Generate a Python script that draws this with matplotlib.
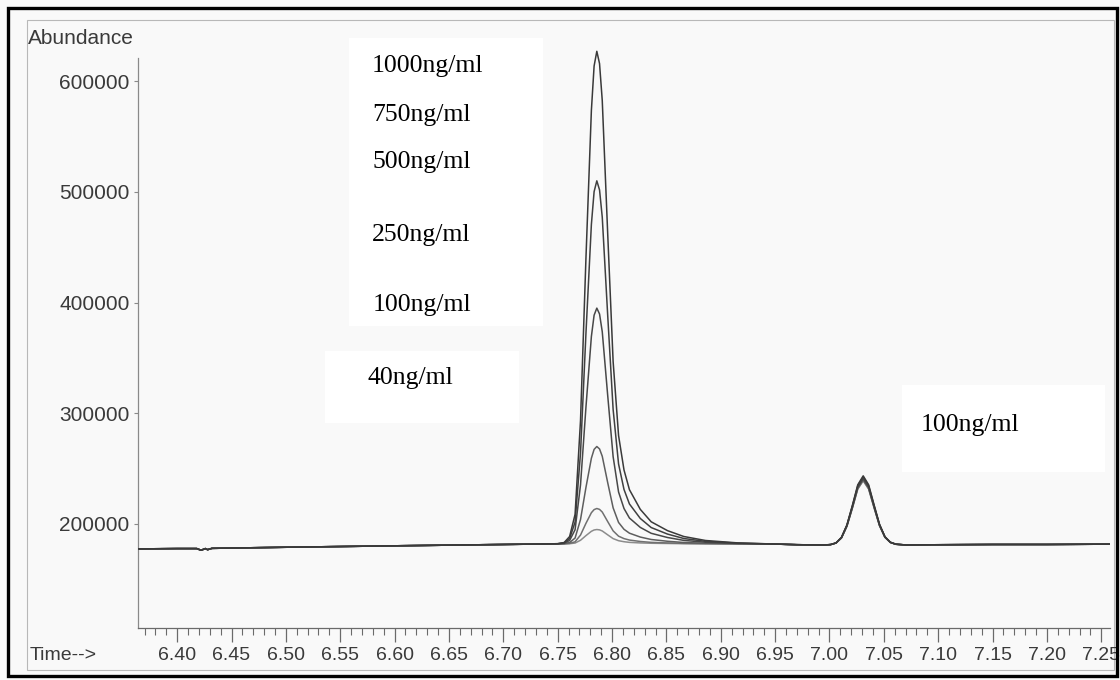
import matplotlib
matplotlib.use("Agg")
import matplotlib.pyplot as plt
from matplotlib.patches import Rectangle
from matplotlib.ticker import MultipleLocator

# ---------------- data ----------------
concentrations = ["1000ng/ml", "750ng/ml", "500ng/ml", "250ng/ml", "100ng/ml", "40ng/ml"]

time_pre = [6.364, 6.40, 6.418, 6.422, 6.426, 6.428, 6.432, 6.50, 6.60, 6.70]
abund_pre = [177500, 177800, 177800, 176300, 177800, 176800, 178000, 179000, 180300, 181500]

time_main = [6.740, 6.750, 6.756, 6.761, 6.766, 6.771, 6.776, 6.781, 6.7835, 6.786,
             6.7885, 6.791, 6.796, 6.801, 6.806, 6.811, 6.816, 6.826, 6.836, 6.851,
             6.866, 6.886, 6.916, 6.946]
main_1000 = [182000, 182200, 183300, 188700, 208700, 293300, 440100, 573600, 613700, 627000,
             615900, 582500, 462400, 346700, 279900, 248800, 231000, 213200, 202000, 194000,
             188700, 185100, 182900, 182000]
main_750 = [182000, 182200, 183000, 186900, 201700, 264000, 372200, 470600, 500200, 510000,
            501800, 477200, 388600, 303400, 254200, 231200, 218100, 205000, 196800, 190900,
            186900, 184300, 182700, 182000]
main_500 = [182000, 182100, 182600, 185200, 194800, 235300, 305500, 369400, 388600, 395000,
            389700, 373700, 316200, 260800, 228900, 214000, 205400, 196900, 191600, 187800,
            185200, 183500, 182400, 182000]
main_250 = [182000, 182000, 182300, 183300, 187300, 204000, 233000, 259400, 267400, 270000,
            267800, 261200, 237400, 214600, 201400, 195200, 191700, 188200, 186000, 184400,
            183300, 182600, 182200, 182000]
main_100 = [182000, 182000, 182100, 182500, 183900, 190000, 200600, 210200, 213000, 214000,
            213200, 210800, 202200, 193800, 189000, 186800, 185500, 184200, 183400, 182900,
            182500, 182200, 182100, 182000]
main_40 = [182000, 182000, 182000, 182200, 182800, 185300, 189500, 193400, 194600, 195000,
           194700, 193700, 190200, 186800, 184900, 184000, 183400, 182900, 182600, 182400,
           182200, 182100, 182000, 182000]

time_mid = [6.970, 6.995]
abund_mid = [181300, 181000]

time_second = [7.001, 7.006, 7.011, 7.016, 7.021, 7.026, 7.031, 7.036, 7.041, 7.046,
               7.051, 7.056, 7.061, 7.071]
second_1000 = [181400, 182900, 187900, 199100, 216600, 235400, 243500, 235400, 217300, 199800, 188500, 183500, 181800, 181000]
second_750 = [181400, 182900, 187800, 198800, 216100, 234500, 242500, 234500, 216700, 199500, 188400, 183500, 181700, 181000]
second_500 = [181400, 182900, 187600, 198400, 215200, 233200, 241000, 233200, 215800, 199000, 188200, 183400, 181700, 181000]
second_250 = [181400, 182800, 187500, 198300, 214900, 232800, 240500, 232800, 215500, 198900, 188100, 183400, 181700, 181000]
second_100 = [181400, 182800, 187400, 198000, 214300, 231900, 239500, 231900, 214900, 198600, 188000, 183300, 181700, 181000]
second_40 = [181400, 182800, 187400, 197800, 214100, 231500, 239000, 231500, 214600, 198400, 188000, 183300, 181700, 181000]

time_post = [7.090, 7.150, 7.200, 7.258]
abund_post = [181200, 181500, 181500, 181800]

main_series = [main_1000, main_750, main_500, main_250, main_100, main_40]
second_series = [second_1000, second_750, second_500, second_250, second_100, second_40]

x_ticks = [6.40, 6.45, 6.50, 6.55, 6.60, 6.65, 6.70, 6.75, 6.80, 6.85, 6.90, 6.95,
           7.00, 7.05, 7.10, 7.15, 7.20, 7.25]
x_tick_labels = ["6.40", "6.45", "6.50", "6.55", "6.60", "6.65", "6.70", "6.75", "6.80",
                 "6.85", "6.90", "6.95", "7.00", "7.05", "7.10", "7.15", "7.20", "7.25"]
y_ticks = [200000, 300000, 400000, 500000, 600000]
y_tick_labels = ["200000", "300000", "400000", "500000", "600000"]

# ---------------- figure ----------------
W, H = 1120, 680
fig = plt.figure(figsize=(W / 100, H / 100), dpi=100, facecolor="#f9f9f9")

def fx(px):
    return px / W

def fy(py):
    return 1 - py / H

# outer black border and faint scan frame
fig.add_artist(Rectangle((fx(8), fy(676)), fx(1117) - fx(8), (676 - 8) / H,
                         transform=fig.transFigure, fill=False, ec="black", lw=2.4, zorder=5))
fig.add_artist(Rectangle((fx(27), fy(670)), fx(1114) - fx(27), (670 - 20) / H,
                         transform=fig.transFigure, fill=False, ec="#b8b8b8", lw=0.8, zorder=-2))

# white label boxes
for (x0, y0, x1, y1) in [(349, 38, 543, 326), (325, 351, 519, 423), (902, 385, 1105, 472)]:
    fig.add_artist(Rectangle((fx(x0), fy(y1)), fx(x1) - fx(x0), (y1 - y0) / H,
                             transform=fig.transFigure, fc="white", ec="none", zorder=-1))

ax = fig.add_axes([fx(138), fy(628), fx(1110) - fx(138), (628 - 20) / H])
ax.set_facecolor("none")
ax.set_xlim(6.364, 7.258)
ax.set_ylim(106050, 655280)

colors = ["#3a3a3a", "#404040", "#484848", "#5e5e5e", "#707070", "#8c8c8c"]
for i in range(len(concentrations)):
    t = time_pre + time_main + time_mid + time_second + time_post
    v = abund_pre + main_series[i] + abund_mid + second_series[i] + abund_post
    ax.plot(t, v, color=colors[i], lw=1.1, zorder=3 + (5 - i) * 0.1)

for s in ["top", "right"]:
    ax.spines[s].set_visible(False)
ax.spines["left"].set_bounds(106050, 621000)
ax.spines["left"].set_color("#8a8a8a")
ax.spines["left"].set_linewidth(0.9)
ax.spines["bottom"].set_color("#6a6a6a")
ax.spines["bottom"].set_linewidth(0.9)

ax.set_xticks(x_ticks)
ax.set_xticklabels(x_tick_labels, fontsize=14, family="Liberation Sans", color="#3a3a3a")
ax.xaxis.set_minor_locator(MultipleLocator(0.01))
ax.tick_params(axis="x", which="major", length=10, width=0.9, color="#6a6a6a", pad=3.5, direction="out")
ax.tick_params(axis="x", which="minor", length=5, width=0.8, color="#6a6a6a", direction="out")
ax.set_yticks(y_ticks)
ax.set_yticklabels(y_tick_labels, fontsize=15, family="Liberation Sans", color="#3a3a3a")
ax.tick_params(axis="y", which="major", length=3, width=0.8, color="#8a8a8a", pad=3, direction="out")

# axis captions
fig.text(fx(28), fy(38), "Abundance", fontsize=15, family="Liberation Sans", color="#3a3a3a",
         ha="left", va="center")
fig.text(fx(30), fy(655), "Time-->", fontsize=14, family="Liberation Sans", color="#3a3a3a",
         ha="left", va="center")

# concentration labels
label_pos = [(372, 66), (372, 115), (372, 162), (372, 235), (373, 305), (367, 378)]
for name, (px, py) in zip(concentrations, label_pos):
    fig.text(fx(px), fy(py), name, fontsize=18.5, family="Liberation Serif", color="black",
             ha="left", va="center")
fig.text(fx(921), fy(425), "100ng/ml", fontsize=18.5, family="Liberation Serif", color="black",
         ha="left", va="center")

fig.savefig("out.png", dpi=100, facecolor=fig.get_facecolor())
